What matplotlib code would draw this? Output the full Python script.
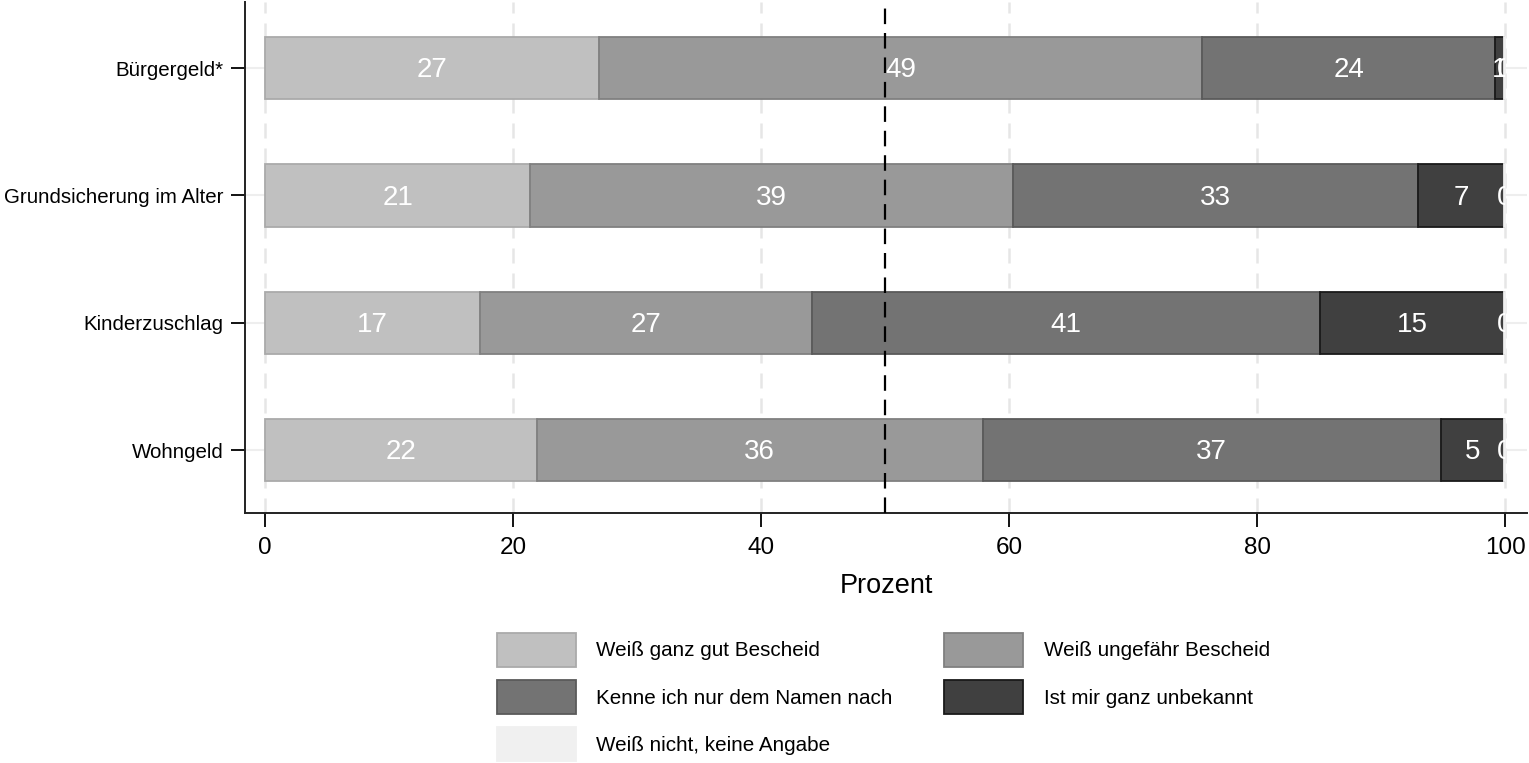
import matplotlib
matplotlib.use("Agg")
import matplotlib.pyplot as plt
from matplotlib.patches import Rectangle, Patch

plt.rcParams['font.family'] = ['Liberation Sans', 'DejaVu Sans']

# Data (percent)
categories = ['Bürgergeld*', 'Grundsicherung im Alter', 'Kinderzuschlag', 'Wohngeld']
weiss_gut = [26.9, 21.4, 17.3, 21.9]
weiss_ungefaehr = [48.7, 38.9, 26.8, 36.0]
nur_namen = [23.6, 32.7, 41.0, 36.9]
unbekannt = [0.7, 6.9, 14.8, 5.1]
weiss_nicht = [0.1, 0.1, 0.1, 0.1]

series = [weiss_gut, weiss_ungefaehr, nur_namen, unbekannt, weiss_nicht]
labels = ['Weiß ganz gut Bescheid', 'Weiß ungefähr Bescheid',
          'Kenne ich nur dem Namen nach', 'Ist mir ganz unbekannt',
          'Weiß nicht, keine Angabe']
colors = ['#c0c0c0', '#999999', '#737373', '#404040', '#f0f0f0']
edges = ['#aaaaaa', '#808080', '#5a5a5a', '#1a1a1a', '#f0f0f0']

fig = plt.figure(figsize=(15.29, 7.63), dpi=100)
ax = fig.add_axes([245 / 1529, 1 - 513 / 763, (1527 - 245) / 1529, 511 / 763])

ypos = list(range(len(categories) - 1, -1, -1))

# grid
for x in [0, 20, 40, 60, 80, 100]:
    ax.axvline(x, color='#e6e6e6', lw=1.8, ls=(0, (6, 4)), zorder=0)
for y in ypos:
    ax.axhline(y, color='#eeeeee', lw=1.5, zorder=0)

clip = Rectangle((0, -1), 100, 6, transform=ax.transData, visible=False)
ax.add_patch(clip)

left = [0.0] * len(categories)
for vals, lab, c, ec in zip(series, labels, colors, edges):
    bars = ax.barh(ypos, vals, left=left, height=0.49, color=c, edgecolor=ec,
                   linewidth=1.3, label=lab, zorder=2)
    txts = ax.bar_label(bars, labels=['%.0f' % v for v in vals], label_type='center',
                        color='white', fontsize=20, zorder=4)
    for t in txts:
        t.xyann = (0, -1.5)
        t.set_clip_on(True)
        t.set_clip_path(clip)
    left = [l + v for l, v in zip(left, vals)]

ax.axvline(50, color='black', lw=1.6, ls=(0, (7, 4)), zorder=5)

ax.set_xlim(-1.613, 101.77)
ax.set_ylim(-0.495, 3.52)
ax.set_yticks(ypos)
ax.set_yticklabels(categories, fontsize=14.8)
ax.set_xticks([0, 20, 40, 60, 80, 100])
ax.tick_params(axis='x', labelsize=17.5, length=10, width=1.3, pad=7.5)
ax.tick_params(axis='y', length=10, width=1.3, pad=5.5)
ax.set_xlabel('Prozent', fontsize=19.5, labelpad=10)

for s in ['top', 'right']:
    ax.spines[s].set_visible(False)
for s in ['left', 'bottom']:
    ax.spines[s].set_linewidth(1.4)
    ax.spines[s].set_color('#222222')

handles = [Patch(facecolor=c, edgecolor=ec, linewidth=1.3) for c, ec in zip(colors, edges)]
order = [0, 2, 4, 1, 3]
fig.legend([handles[i] for i in order], [labels[i] for i in order],
           loc='upper left', bbox_to_anchor=(497 / 1529, 1 - 633 / 763),
           ncol=2, frameon=False, fontsize=14.9, handlelength=3.8,
           handleheight=2.12, labelspacing=0.66, handletextpad=1.0,
           columnspacing=2.5, borderpad=0, borderaxespad=0)

fig.savefig('out.png', dpi=100)
